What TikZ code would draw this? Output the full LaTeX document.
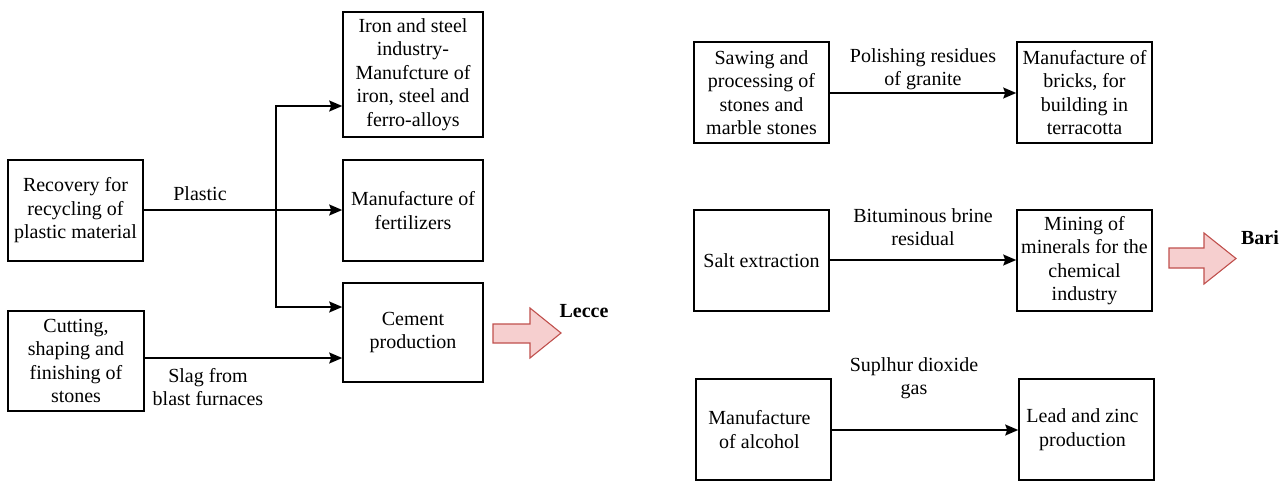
\documentclass[tikz,border=0pt]{standalone}
\usepackage{fontspec}
\setmainfont{Liberation Serif}
\usetikzlibrary{arrows.meta,calc}
\definecolor{pinkfill}{HTML}{F6CFCF}
\definecolor{pinkline}{HTML}{C0504D}
\begin{document}
\begin{tikzpicture}[x=1pt,y=-1pt,
  box/.style={draw,line width=1.6pt,align=center,inner sep=2pt,
    font=\fontsize{20}{23.5}\selectfont},
  lbl/.style={align=center,inner sep=0pt,font=\fontsize{20}{23}\selectfont},
  city/.style={inner sep=0pt,font=\fontsize{20}{23}\selectfont\bfseries},
  arr/.style={line width=1.5pt,-{Stealth[length=13pt,width=11pt,inset=2pt]}},
  bigarrow/.style={fill=pinkfill,draw=pinkline,line width=1.1pt,line join=miter}]
\useasboundingbox (0,0) rectangle (1287,483);
% left part
\node[box,minimum width=135pt,minimum height=101pt] (rec) at (75.5,210.5) {Recovery for\\recycling of\\plastic material};
\node[box,minimum width=136pt,minimum height=100pt] (cut) at (76,361) {Cutting,\\shaping and\\finishing of\\stones};
\node[box,minimum width=140pt,minimum height=125pt] (iron) at (413,74.5) {Iron and steel\\industry-\\Manufcture of\\iron, steel and\\ferro-alloys};
\node[box,minimum width=140pt,minimum height=101pt] (fert) at (413,210.5) {Manufacture of\\fertilizers};
\node[box,minimum width=140pt,minimum height=99pt] (cem) at (413,332.5) {Cement\\production};
\coordinate (j) at (276,210);
\draw[arr] (rec.east |- j) -- (fert.west |- j);
\draw[arr] (j) |- (iron.west |- 0,106);
\draw[arr] (j) |- (cem.west |- 0,307);
\draw[arr] (cut.east |- 0,358) -- (cem.west |- 0,358);
\node[lbl] (plastic) at (200,194) {Plastic};
\node[lbl] (slag) at (208,387) {Slag from\\blast furnaces};
\draw[bigarrow] (493,324) -- (530,324) -- (530,308) -- (561,333) -- (530,358) -- (530,343) -- (493,343) -- cycle;
\node[city] (lecce) at (584,311) {Lecce};
% right part
\node[box,minimum width=135pt,minimum height=101pt] (saw) at (761.5,92.5) {Sawing and\\processing of\\stones and\\marble stones};
\node[box,minimum width=135pt,minimum height=101pt] (brick) at (1084.5,92.5) {Manufacture of\\bricks, for\\building in\\terracotta};
\node[box,minimum width=135pt,minimum height=101pt] (salt) at (761.5,260.5) {Salt extraction};
\node[box,minimum width=135pt,minimum height=101pt] (mine) at (1084.5,260.5) {Mining of\\minerals for the\\chemical\\industry};
\node[box,minimum width=135pt,minimum height=101pt] (alc) at (763.5,429.5) {\hspace*{-8pt}Manufacture\\\hspace*{-8pt}of alcohol};
\node[box,minimum width=135pt,minimum height=101pt] (lead) at (1086.5,429.5) {\hspace*{-8pt}Lead and zinc\\\hspace*{-8pt}production};
\draw[arr] (saw.east |- 0,93) -- (brick.west |- 0,93);
\draw[arr] (salt.east |- 0,260) -- (mine.west |- 0,260);
\draw[arr] (alc.east |- 0,430) -- (lead.west |- 0,430);
\node[lbl] (polish) at (923,69) {Polishing residues\\of granite};
\node[lbl] (bitum) at (923,227) {Bituminous brine\\residual};
\node[lbl] (sulph) at (914,378) {Suplhur dioxide\\gas};
\draw[bigarrow] (1169,248) -- (1204,248) -- (1204,233) -- (1236,258.5) -- (1204,284) -- (1204,268) -- (1169,268) -- cycle;
\node[city] (bari) at (1260,238) {Bari};
\end{tikzpicture}
\end{document}
